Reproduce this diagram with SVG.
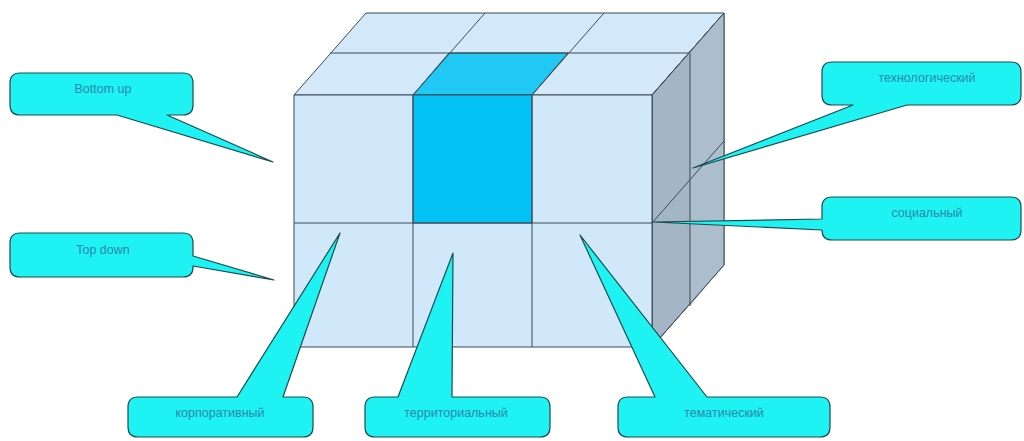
<svg xmlns="http://www.w3.org/2000/svg" width="1024" height="441" viewBox="0 0 1024 441">
<style>
.edge{stroke:#3b4a56;stroke-width:1;stroke-linejoin:round}
.light{fill:#d0e8fa}
.topf{fill:#d3e9f9}
.hi{fill:#03c2f5}
.hit{fill:#22c8f4}
.side{fill:#a4b6c6}
.side2{fill:#acbdcb}
.call{fill:#1ff2f2;stroke:#1d4d4f;stroke-width:1.2;stroke-linejoin:round}
.lbl{font-family:"Liberation Sans",Arial,sans-serif;font-size:12.5px;fill:#2a88aa;text-anchor:middle}
</style>
<rect width="1024" height="441" fill="#ffffff"/>
<g id="cube">
  <polygon class="topf edge" points="294,95 652,95 724,13 366,13"/>
  <polygon class="hit edge" points="413,95 532,95 568,53 449,53"/>
  <polyline class="edge" fill="none" points="330,53 690,53"/>
  <line class="edge" x1="413" y1="95" x2="485" y2="13"/>
  <line class="edge" x1="532" y1="95" x2="604" y2="13"/>
  <polygon class="side edge" points="652,95 724,13 724,265 652,347"/>
  <polygon class="side2" points="690,53 724,13 724,265 690,306"/>
  <polygon class="edge" fill="none" points="652,95 724,13 724,265 652,347"/>
  <line class="edge" x1="690" y1="53" x2="690" y2="306"/>
  <line class="edge" x1="652" y1="223" x2="724" y2="141"/>
  <rect class="light edge" x="294" y="95" width="358" height="252"/>
  <rect class="hi edge" x="413" y="95" width="119" height="128"/>
  <line class="edge" x1="294" y1="223" x2="652" y2="223"/>
  <line class="edge" x1="413" y1="95" x2="413" y2="347"/>
  <line class="edge" x1="532" y1="95" x2="532" y2="347"/>
</g>
<g id="bottom-up">
  <path class="call" d="M20,73 H183 Q193,73 193,83 V105 Q193,115 183,115 H167 L273,162 L117,115 H20 Q10,115 10,105 V83 Q10,73 20,73 Z"/>
  <text class="lbl" x="103" y="93">Bottom up</text>
</g>
<g id="top-down">
  <path class="call" d="M20,233 H183 Q193,233 193,243 V256 L274,280 L193,266 V267 Q193,277 183,277 H20 Q10,277 10,267 V243 Q10,233 20,233 Z"/>
  <text class="lbl" x="103" y="254">Top down</text>
</g>
<g id="korporativny">
  <path class="call" d="M138,397 H237 L340,233 L283,397 H303 Q313,397 313,407 V427 Q313,437 303,437 H138 Q128,437 128,427 V407 Q128,397 138,397 Z"/>
  <text class="lbl" x="220" y="417">корпоративный</text>
</g>
<g id="territorialny">
  <path class="call" d="M375,397 H398 L453,253 L452,397 H540 Q550,397 550,407 V427 Q550,437 540,437 H375 Q365,437 365,427 V407 Q365,397 375,397 Z"/>
  <text class="lbl" x="456" y="417">территориальный</text>
</g>
<g id="tematichesky">
  <path class="call" d="M628,397 H655 L580,235 L707,397 H820 Q830,397 830,407 V427 Q830,437 820,437 H628 Q618,437 618,427 V407 Q618,397 628,397 Z"/>
  <text class="lbl" x="724" y="417">тематический</text>
</g>
<g id="tekhnologichesky">
  <path class="call" d="M832,62 H1011 Q1021,62 1021,72 V95 Q1021,105 1011,105 H907 L693,168 L853,105 H832 Q822,105 822,95 V72 Q822,62 832,62 Z"/>
  <text class="lbl" x="927" y="82">технологический</text>
</g>
<g id="sotsialny">
  <path class="call" d="M832,197 H1011 Q1021,197 1021,207 V230 Q1021,240 1011,240 H832 Q822,240 822,230 L653,222 L822,219 V207 Q822,197 832,197 Z"/>
  <text class="lbl" x="927" y="217">социальный</text>
</g>
</svg>
